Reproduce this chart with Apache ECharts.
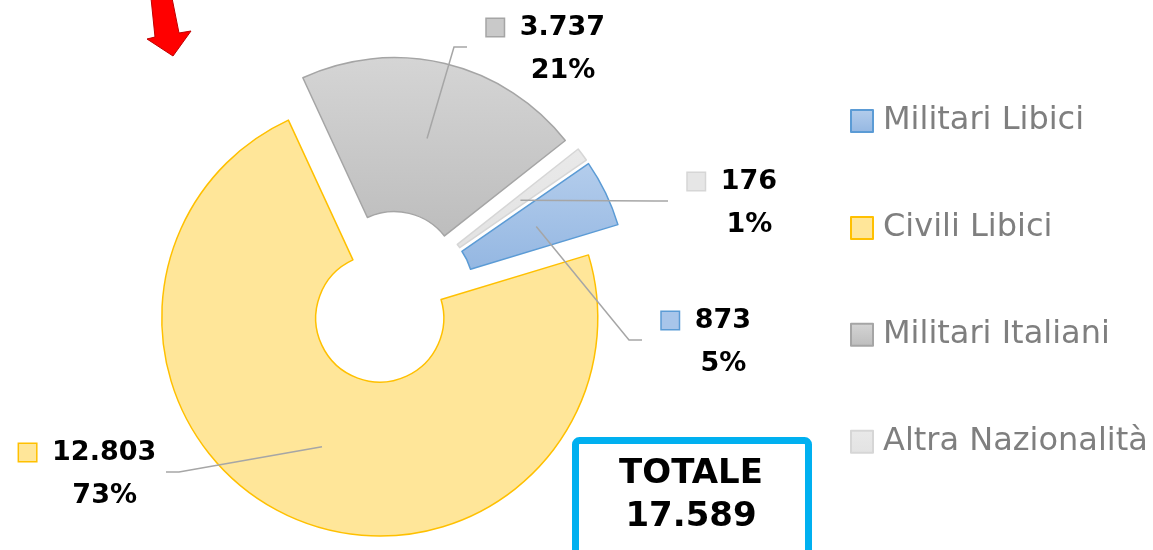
<!DOCTYPE html>
<html>
<head>
<meta charset="utf-8">
<title>Vittime</title>
<script src="https://cdn.jsdelivr.net/npm/echarts@6/dist/echarts.min.js"></script>
<style>
  html, body { margin: 0; padding: 0; background: #fff; }
  #chart { width: 1153px; height: 550px; }
</style>
</head>
<body>
<div id="chart"></div>
<script>
var categories = ['Militari Libici', 'Civili Libici', 'Militari Italiani', 'Altra Nazionalità']
var values = [873, 12803, 3737, 176]

// colori (riempimento sfumato, bordo, quadratino etichetta)
var fills = [['#B4CDEC', '#94B7E2'], ['#FFE699', '#FFE699'], ['#D5D5D5', '#BDBDBD'], ['#E9E9E9', '#E3E3E3']]
var borders = ['#5B9BD5', '#FFC000', '#A5A5A5', '#D6D6D6']
var markerFills = ['#A8C5EA', '#FFE699', '#C9C9C9', '#E6E6E6']

// posizione etichette: lato di aggancio, bordo x, centro y della linea guida
var labelPos = [
  { side: 'left', x: 661, y: 340 },
  { side: 'right', x: 157, y: 472 },
  { side: 'left', x: 486, y: 47 },
  { side: 'left', x: 687, y: 201 }
]

var FONT = 'DejaVu Sans'
var cx = 389
var cy = 297.5
var rIn = 64
var rOut = 218
var offset = 22.5 // esplosione delle fette
var startAngle = 34.7 // gradi, convenzione echarts

var total = values.reduce(function (a, b) { return a + b }, 0)

function fmt(n) {
  return String(n).replace(/\B(?=(\d{3})+(?!\d))/g, '.')
}

// angolo medio della fetta, in radianti da nord in senso orario
function midAngle(i) {
  var before = 0
  for (var k = 0; k < i; k++) before += values[k]
  return ((90 - startAngle) + (before + values[i] / 2) / total * 360) * Math.PI / 180
}

var rich = {
  g: { width: 16, lineHeight: 43 },
  s: { width: 34, lineHeight: 43 },
  v: { fontFamily: FONT, fontSize: 27, fontWeight: 'bold', color: '#000', lineHeight: 43 }
}
categories.forEach(function (c, i) {
  rich['m' + i] = {
    width: 17, height: 17, lineHeight: 43,
    backgroundColor: markerFills[i], borderColor: borders[i], borderWidth: 1.5
  }
})

var hidden = { color: 'rgba(0,0,0,0)', borderWidth: 0 }

// una serie per fetta, spostata lungo il suo angolo medio
var sliceSeries = categories.map(function (name, i) {
  var a = midAngle(i)
  return {
    type: 'pie',
    z: 2,
    silent: true,
    center: [cx + offset * Math.sin(a), cy - offset * Math.cos(a)],
    radius: [rIn, rOut],
    startAngle: startAngle,
    label: { show: false },
    labelLine: { show: false },
    emphasis: { disabled: true },
    data: values.map(function (v, j) {
      if (j !== i) return { name: '', value: v, itemStyle: hidden }
      return {
        name: name,
        value: v,
        itemStyle: {
          color: {
            type: 'linear', x: 0, y: 0, x2: 0, y2: 1,
            colorStops: [{ offset: 0, color: fills[i][0] }, { offset: 1, color: fills[i][1] }]
          },
          borderColor: borders[i],
          borderWidth: 1.5
        }
      }
    })
  }
})

// serie trasparente sopra, solo per etichette e linee guida
var labelSeries = {
  type: 'pie',
  z: 5,
  silent: true,
  center: [cx, cy],
  radius: [rIn, rOut],
  startAngle: startAngle,
  avoidLabelOverlap: false,
  emphasis: { disabled: true },
  itemStyle: hidden,
  label: {
    show: true,
    position: 'outside',
    color: '#000',
    formatter: function (p) {
      var pct = Math.round(p.value / total * 100)
      return '{m' + p.dataIndex + '| }{g| }{v|' + fmt(p.value) + '}\n{s| }{v|' + pct + '%}'
    },
    rich: rich
  },
  labelLine: {
    show: true,
    lineStyle: { color: '#A6A6A6', width: 1.5 }
  },
  labelLayout: function (params) {
    var i = params.dataIndex
    var p = labelPos[i]
    var w = params.labelRect.width
    var a = midAngle(i)
    var r = offset + (rIn + rOut) / 2
    var start = [cx + r * Math.sin(a), cy - r * Math.cos(a)]
    var x, end, elbow
    if (p.side === 'left') {
      x = p.x + w / 2
      end = [p.x - 19, p.y]
      elbow = [end[0] - 13, p.y]
    } else {
      x = p.x - w / 2
      end = [p.x + 9, p.y]
      elbow = [end[0] + 13, p.y]
    }
    return { x: x, y: p.y + 2, align: 'center', verticalAlign: 'middle', labelLinePoints: [start, elbow, end] }
  },
  data: values.map(function (v, i) { return { name: 'lbl' + i, value: v } })
}

var chart = echarts.init(document.getElementById('chart'))
chart.setOption({
  backgroundColor: '#fff',
  animation: false,
  legend: {
    orient: 'vertical',
    left: 850,
    top: 105,
    padding: 0,
    itemWidth: 22,
    itemHeight: 22,
    itemGap: 74.9,
    icon: 'rect',
    selectedMode: false,
    data: categories,
    textStyle: { fontFamily: FONT, fontSize: 32, color: '#7F7F7F', lineHeight: 30, padding: [0, 0, 0, 5] }
  },
  series: sliceSeries.concat([labelSeries]),
  graphic: [
    {
      // freccia rossa
      type: 'polygon',
      shape: { points: [[151, -2], [172, -2], [179, 33], [191, 31], [173, 56], [147, 39], [155, 37]] },
      style: { fill: '#FF0000', stroke: '#C00000', lineWidth: 1 }
    },
    {
      type: 'rect',
      shape: { x: 575.5, y: 440.5, width: 233, height: 130, r: 4 },
      style: { fill: '#fff', stroke: '#00B0F0', lineWidth: 7 }
    },
    {
      type: 'text',
      x: 691, y: 474,
      style: { text: 'TOTALE', font: 'bold 34px "DejaVu Sans"', fill: '#000', align: 'center', verticalAlign: 'middle' }
    },
    {
      type: 'text',
      x: 691, y: 517,
      style: { text: fmt(total), font: 'bold 34px "DejaVu Sans"', fill: '#000', align: 'center', verticalAlign: 'middle' }
    }
  ]
})
</script>
</body>
</html>
